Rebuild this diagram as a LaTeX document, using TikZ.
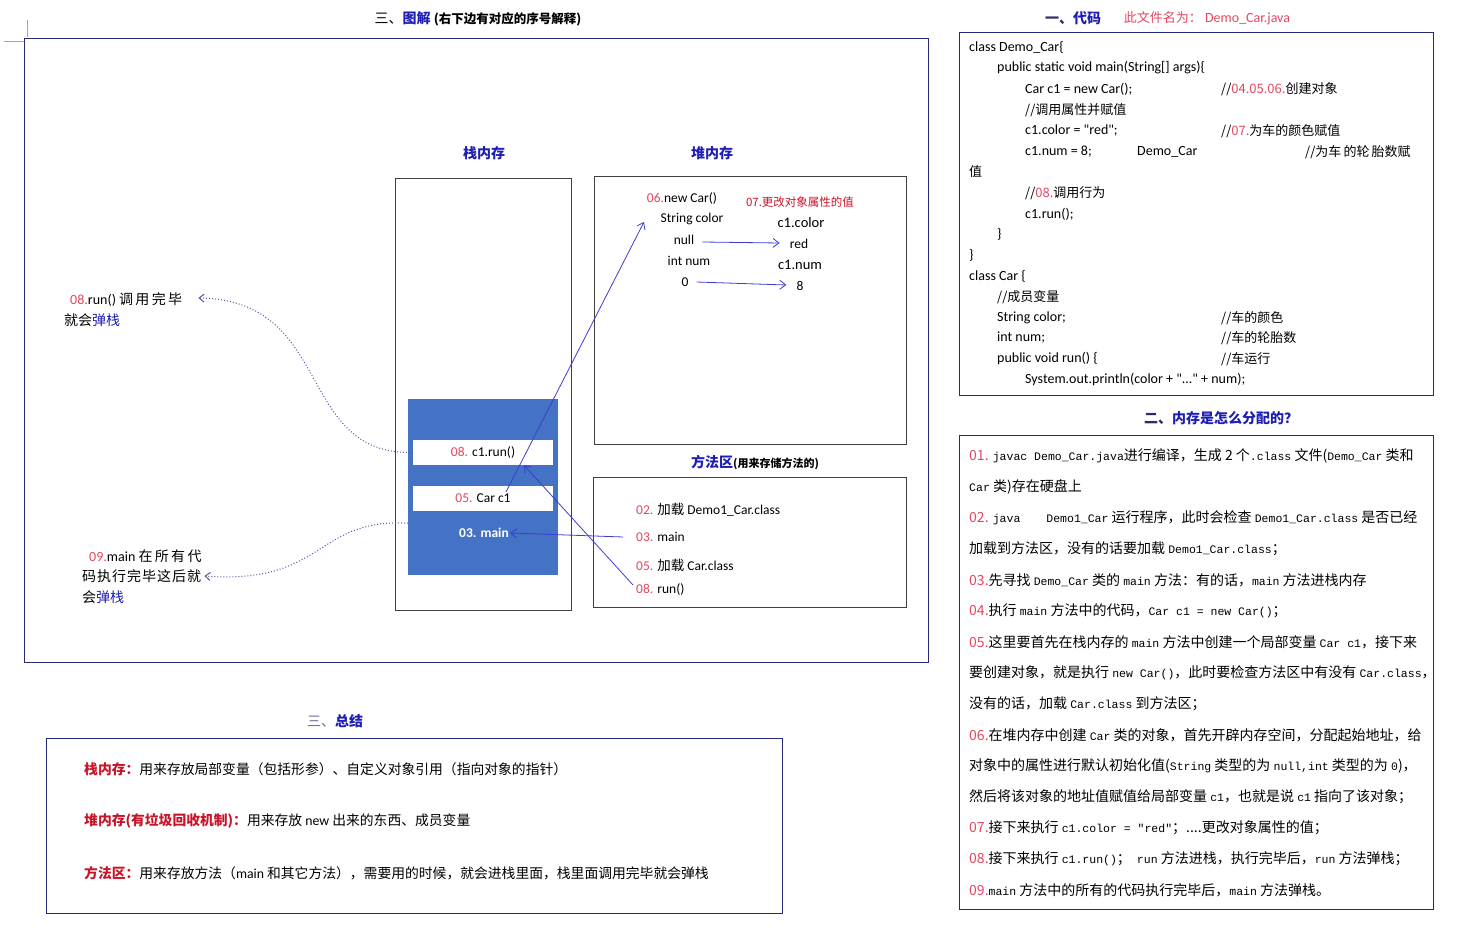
\documentclass[tikz,border=0pt]{standalone}
\usepackage{fontspec}
\setmainfont{Noto Sans CJK SC}
\newfontfamily\zhfont{Noto Sans CJK SC}
\newfontfamily\lat{Carlito}
\setmonofont{Liberation Mono}
\usetikzlibrary{arrows.meta}

\definecolor{headnavy}{RGB}{45,45,110}
\definecolor{linkblue}{RGB}{30,30,180}
\definecolor{numred}{RGB}{228,70,95}
\definecolor{labred}{RGB}{200,20,40}
\definecolor{framenavy}{RGB}{40,40,120}
\definecolor{stackblue}{RGB}{68,114,196}
\definecolor{arrowblue}{RGB}{60,60,210}
\definecolor{dotblue}{RGB}{85,85,170}

\newcommand{\fs}[1]{\fontsize{#1}{#1}\selectfont}
\newcommand{\hl}[1]{\textcolor{numred}{#1}}
\newcommand{\zh}[1]{{\zhfont #1}}
\newcommand{\cd}[1]{{\ttfamily\fs{11.5}#1}}

\tikzset{
  frame/.style={draw=framenavy, line width=1pt, inner sep=0pt},
  box/.style={draw=black!75, line width=0.8pt, inner sep=0pt},
  txt/.style={anchor=west, inner sep=0pt},
  heading/.style={inner sep=0pt, font=\bfseries\fs{14}, text=linkblue},
  bar/.style={fill=white, inner sep=0pt, minimum width=140, minimum height=25, font=\lat\fs{13.5}},
  heaptxt/.style={inner sep=0pt, font=\lat\fs{13.5}},
  methtxt/.style={txt, font=\lat\fs{13.5}},
  codeln/.style={txt, font=\lat\fs{14}},
  cmt/.style={txt, font=\fs{13}},
  stepln/.style={txt, font=\fs{14}},
  sumtxt/.style={txt, font=\fs{13.8}},
  note/.style={txt, font=\fs{14}},
  refarrow/.style={draw=arrowblue, line width=0.8pt, -{Straight Barb[length=6pt,width=9pt]}},
  popline/.style={draw=dotblue, line width=1pt, dotted, -{Straight Barb[length=5pt,width=8pt]}}
}

\begin{document}
\begin{tikzpicture}[x=1pt,y=-1pt]
  \useasboundingbox (0,0) rectangle (1464,936);

  % corner marks
  \draw[gray!70, line width=0.6pt] (27,20) -- (27,37);
  \draw[gray!70, line width=0.6pt] (4,41) -- (24,41);

  % ---- diagram ----
  \node[inner sep=0pt] (title) at (478,19) {\fs{14}三、\textcolor{linkblue}{\bfseries 图解} {\bfseries\fs{12.5}(右下边有对应的序号解释)}};
  \node[frame, anchor=north west, minimum width=904, minimum height=624] (diag) at (24,38) {};

  \node[heading] (stkhead) at (484,153) {栈内存};
  \node[heading] (heaphead) at (712,153) {堆内存};
  \node[box, anchor=north west, minimum width=176, minimum height=432] (stack) at (395,178) {};
  \node[box, anchor=north west, minimum width=312, minimum height=268] (heap) at (594,176) {};
  \node[inner sep=0pt] (methhead) at (755,463) {\textcolor{linkblue}{\bfseries\fs{14}方法区}{\bfseries\fs{11}(用来存储方法的)}};
  \node[box, anchor=north west, minimum width=313, minimum height=130] (method) at (593,477) {};

  % stack frames
  \node[fill=stackblue, anchor=north west, minimum width=150, minimum height=176, inner sep=0pt] (bluestk) at (408,399) {};
  \node[bar] (runbar) at (483,452.5) {\hl{08.} c1.run()};
  \node[bar] (carbar) at (483,498) {\hl{05.} Car c1};
  \node[inner sep=0pt, font=\lat\bfseries\fs{13.5}, text=white] (mainlbl) at (484,533) {03. main};

  % heap object
  \node[heaptxt] (newobj) at (682,198) {\hl{06.}new Car()};
  \node[heaptxt] (strcolor) at (692,219) {String color};
  \node[heaptxt] (nullv) at (684,240) {null};
  \node[heaptxt] (intnum) at (689,261) {int num};
  \node[heaptxt] (zerov) at (685,282) {0};
  \node[inner sep=0pt, font=\fs{11.5}, text=labred] (chglbl) at (800,202) {07.更改对象属性的值};
  \node[heaptxt, font=\lat\fs{14.5}] (c1color) at (801,223) {c1.color};
  \node[heaptxt] (redv) at (799,244) {red};
  \node[heaptxt, font=\lat\fs{14.5}] (c1num) at (800,265) {c1.num};
  \node[heaptxt] (eightv) at (800,286) {8};

  % method area
  \node[methtxt] (m02) at (636,510) {\hl{02.} \zh{加载} Demo1\_Car.class};
  \node[methtxt] (m03) at (636,537) {\hl{03.} main};
  \node[methtxt] (m05) at (636,565) {\hl{05.} \zh{加载} Car.class};
  \node[methtxt] (m08) at (636,589) {\hl{08.} run()};

  % pop notes
  \node[note] (runnote) at (70,300) {{\lat\hl{08.}run()} 调\,用\,完\,毕};
  \node[note] (runnote2) at (64,320) {就会\textcolor{linkblue}{弹栈}};
  \node[note] (mainnote) at (89,556) {{\lat\hl{09.}main} 在\,所\,有\,代};
  \node[note] (mainnote2) at (82,576) {码\kern1pt 执\kern1pt 行\kern1pt 完\kern1pt 毕\kern1pt 这\kern1pt 后\kern1pt 就};
  \node[note] (mainnote3) at (82,597) {会\textcolor{linkblue}{弹栈}};

  \draw[popline] (runbar.west) .. controls (295,455) and (335,300) .. ([xshift=16pt,yshift=2pt]runnote.east);
  \draw[popline] ([yshift=-36pt]bluestk.west) .. controls (315,518) and (325,585) .. ([xshift=3pt]mainnote2.east);

  \draw[refarrow] ([xshift=23pt,yshift=6pt]carbar.center) -- ([xshift=-38pt,yshift=-24pt]newobj.center);
  \draw[refarrow] ([xshift=-3pt,yshift=4pt]m08.west) -- ([xshift=41pt]runbar.south);
  \draw[refarrow] ([xshift=-13pt]m03.west) -- ([xshift=1pt]mainlbl.east);
  \draw[refarrow] ([xshift=8pt,yshift=-2pt]nullv.east) -- ([xshift=-10pt,yshift=1pt]redv.west);
  \draw[refarrow] ([xshift=8pt]zerov.east) -- ([xshift=-10pt,yshift=1pt]eightv.west);

  % ---- summary ----
  \node[inner sep=0pt] (sumhead) at (335,721) {\textcolor{headnavy!70}{\fs{14}三、}\textcolor{linkblue}{\bfseries\fs{14}总结}};
  \node[frame, anchor=north west, minimum width=736, minimum height=175] (sumbox) at (46,738) {};
  \node[sumtxt] (sum1) at (84,769) {\textcolor{labred}{\bfseries 栈内存：}用来存放局部变量（包括形参）、自定义对象引用（指向对象的指针）};
  \node[sumtxt] (sum2) at (84,821) {\textcolor{labred}{\bfseries 堆内存(有垃圾回收机制)：}用来存放 {\lat new} 出来的东西、成员变量};
  \node[sumtxt] (sum3) at (84,873) {\textcolor{labred}{\bfseries 方法区：}用来存放方法（{\lat main} 和其它方法），需要用的时候，就会进栈里面，栈里面调用完毕就会弹栈};

  % ---- code ----
  \node[inner sep=0pt] (codehead) at (1073,18) {\textcolor{headnavy}{\bfseries\fs{14}一、}\textcolor{linkblue}{\bfseries\fs{14}代码}};
  \node[inner sep=0pt, text=numred] (filename) at (1207,18) {\fs{13}此文件名为：{\lat\fs{14} Demo\_Car.java}};
  \node[frame, anchor=north west, minimum width=474, minimum height=363] (codebox) at (959,32) {};

  \node[codeln] (cl1) at (969,47) {class Demo\_Car\{};
  \node[codeln] (cl2) at (997,68) {public static void main(String[] args)\{};
  \node[codeln] (cl3) at (1025,89) {Car c1 = new Car();};
  \node[cmt] (cm3) at (1221,89) {//\hl{04.05.06.}创建对象};
  \node[cmt] (cl4) at (1025,110) {//调用属性并赋值};
  \node[codeln] (cl5) at (1025,131) {c1.color = "red";};
  \node[cmt] (cm5) at (1221,131) {//\hl{07.}为车的颜色赋值};
  \node[codeln] (cl6) at (1025,152) {c1.num = 8;};
  \node[codeln] (cl6b) at (1137,152) {Demo\_Car};
  \node[cmt] (cm6) at (1305,152) {//为车\,的轮\,胎数赋};
  \node[cmt] (cl7) at (969,172) {值};
  \node[cmt] (cl8) at (1025,193) {//\hl{08.}调用行为};
  \node[codeln] (cl9) at (1025,214) {c1.run();};
  \node[codeln] (cl10) at (997,234) {\}};
  \node[codeln] (cl11) at (969,255) {\}};
  \node[codeln] (cl12) at (969,276) {class Car \{};
  \node[cmt] (cl13) at (997,297) {//成员变量};
  \node[codeln] (cl14) at (997,318) {String color;};
  \node[cmt] (cm14) at (1221,318) {//车的颜色};
  \node[codeln] (cl15) at (997,338) {int num;};
  \node[cmt] (cm15) at (1221,338) {//车的轮胎数};
  \node[codeln] (cl16) at (997,359) {public void run() \{};
  \node[cmt] (cm16) at (1221,359) {//车运行};
  \node[codeln] (cl17) at (1025,380) {System.out.println(color + "..." + num);};

  % ---- allocation steps ----
  \node[inner sep=0pt] (allochead) at (1221,418) {\bfseries\fs{14}\textcolor{headnavy}{二、}\textcolor{linkblue}{内存是怎么分配的？}};
  \node[frame, anchor=north west, minimum width=474, minimum height=474] (allocbox) at (959,435) {};

  \node[stepln] (s1) at (969,456) {\hl{01.} \cd{javac Demo\_Car.java}进行编译，生成 2 个\cd{.class} 文件(\cd{Demo\_Car} 类和};
  \node[stepln] (s1b) at (969,487) {\cd{Car} 类)存在硬盘上};
  \node[stepln] (s2) at (969,518) {\hl{02.} \cd{java}\hspace{26pt}\cd{Demo1\_Car} 运行程序，此时会检查 \cd{Demo1\_Car.class} 是否已经};
  \node[stepln] (s2b) at (969,549) {加载到方法区，没有的话要加载 \cd{Demo1\_Car.class}；};
  \node[stepln] (s3) at (969,580) {\hl{03.}先寻找 \cd{Demo\_Car} 类的 \cd{main} 方法：有的话，\cd{main} 方法进栈内存};
  \node[stepln] (s4) at (969,611) {\hl{04.}执行 \cd{main} 方法中的代码，\cd{Car c1 = new Car()}；};
  \node[stepln] (s5) at (969,642) {\hl{05.}这里要首先在栈内存的 \cd{main} 方法中创建一个局部变量 \cd{Car c1}，接下来};
  \node[stepln] (s5b) at (969,673) {要创建对象，就是执行 \cd{new Car()}，此时要检查方法区中有没有 \cd{Car.class}，};
  \node[stepln] (s5c) at (969,704) {没有的话，加载 \cd{Car.class} 到方法区；};
  \node[stepln] (s6) at (969,735) {\hl{06.}在堆内存中创建 \cd{Car} 类的对象，首先开辟内存空间，分配起始地址，给};
  \node[stepln] (s6b) at (969,766) {对象中的属性进行默认初始化值(\cd{String} 类型的为 \cd{null,int} 类型的为 \cd{0})，};
  \node[stepln] (s6c) at (969,797) {然后将该对象的地址值赋值给局部变量 \cd{c1}，也就是说 \cd{c1} 指向了该对象；};
  \node[stepln] (s7) at (969,828) {\hl{07.}接下来执行 \cd{c1.color = "red"}；....更改对象属性的值；};
  \node[stepln] (s8) at (969,859) {\hl{08.}接下来执行 \cd{c1.run()}；\hspace{6pt}\cd{run} 方法进栈，执行完毕后，\cd{run} 方法弹栈；};
  \node[stepln] (s9) at (969,890) {\hl{09.}\cd{main} 方法中的所有的代码执行完毕后，\cd{main} 方法弹栈。};
\end{tikzpicture}
\end{document}
